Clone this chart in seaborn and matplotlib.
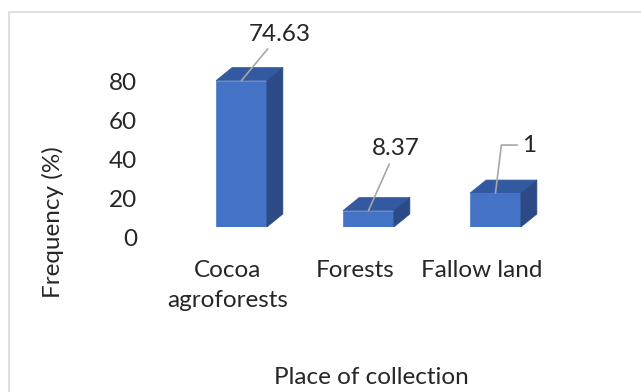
import matplotlib
matplotlib.use("Agg")
import numpy as np
import pandas as pd
import matplotlib.pyplot as plt
import seaborn as sns
from matplotlib.patches import Polygon, Rectangle

# ---- data ----
places = ["Cocoa\nagroforests", "Forests", "Fallow land"]
frequency = [74.63, 8.37, 17.3]
value_labels = ["74.63", "8.37", "1"]
y_ticks = [0, 20, 40, 60, 80]

sns.set_theme(style="white")
plt.rcParams["font.family"] = ["Lato", "DejaVu Sans"]

W, H = 641, 392
fig = plt.figure(figsize=(W / 100, H / 100), dpi=100)


def px(x0, y0, x1, y1):
    return [x0 / W, 1 - y1 / H, (x1 - x0) / W, (y1 - y0) / H]


FS = 17.5
FRONT = "#4472C4"
TOP = "#3359a0"
SIDE = "#2c4b86"
GREY = "#a6a6a6"

# chart frame
fig.patches.append(Rectangle((9 / W, -0.1), 1.2, 1 - 12 / H + 0.1,
                             transform=fig.transFigure, fill=False,
                             edgecolor="#d9d9d9", linewidth=1.2))

# axis for value ticks (back wall)
ax_y = fig.add_axes(px(140, 61.4, 600, 238))
ax_y.set_ylim(0, 90)
ax_y.set_yticks(y_ticks)
ax_y.set_xticks([])
ax_y.tick_params(axis="y", length=0, pad=2, labelsize=FS)
for s in ax_y.spines.values():
    s.set_visible(False)
ax_y.patch.set_visible(False)
ax_y.set_ylabel("Frequency (%)", fontsize=FS, va="center")
ax_y.yaxis.set_label_coords(-0.189, 0.09)

# bars
ax = fig.add_axes(px(140, 50.4, 600, 227))
df = pd.DataFrame({"place": places, "freq": frequency})
sns.barplot(data=df, x="place", y="freq", color=FRONT, saturation=1,
            width=0.4, ax=ax, edgecolor="#5a85cf", linewidth=0.6)
ax.set_xlim(-0.799, 2.823)
ax.set_ylim(0, 90)
ax.set_yticks([])
for s in ax.spines.values():
    s.set_visible(False)
ax.patch.set_visible(False)
ax.set_ylabel("")

shift = 13.5 / 127
ax.set_xticks(np.arange(len(places)) - shift, labels=places)
ax.tick_params(axis="x", length=0, pad=24, labelsize=FS)
for lab in ax.get_xticklabels():
    lab.set_multialignment("center")
    lab.set_linespacing(1.5)

ax.set_xlabel("Place of collection", fontsize=FS)
ax.xaxis.set_label_coords(0.502, -0.855)
ax.xaxis.label.set_va("center")

# 3D top and side faces
dx, dy = 16, 13
tr = ax.transData
inv = tr.inverted()
bars = list(ax.patches)
for bar in bars:
    x0, w, h = bar.get_x(), bar.get_width(), bar.get_height()
    X0, Y0 = tr.transform((x0, 0))
    X1, Y1 = tr.transform((x0 + w, h))
    top = [(X0, Y1), (X1, Y1), (X1 + dx, Y1 + dy), (X0 + dx, Y1 + dy)]
    side = [(X1, Y0), (X1, Y1), (X1 + dx, Y1 + dy), (X1 + dx, Y0 + dy)]
    ax.add_patch(Polygon(inv.transform(top), closed=True, facecolor=TOP,
                         edgecolor=TOP, linewidth=0.5))
    ax.add_patch(Polygon(inv.transform(side), closed=True, facecolor=SIDE,
                         edgecolor=SIDE, linewidth=0.5))

# data labels with leader lines (offsets in pixels)
offsets = [(38.5, 46.5), (27.5, 61.6), (33.5, 48)]
for i, (bar, lab, (ox, oy)) in enumerate(zip(bars, value_labels, offsets)):
    cx = bar.get_x() + bar.get_width() / 2
    h = bar.get_height()
    conn = "angle,angleA=180,angleB=83,rad=0" if i == 2 else "arc3"
    ax.annotate(lab, xy=(cx, h), xytext=(ox * 0.72, oy * 0.72),
                textcoords="offset points", ha="center", va="center",
                fontsize=FS,
                arrowprops=dict(arrowstyle="-", color=GREY, lw=1.2,
                                shrinkA=1, shrinkB=0, connectionstyle=conn))

fig.savefig("out.png", dpi=100, facecolor="white")
